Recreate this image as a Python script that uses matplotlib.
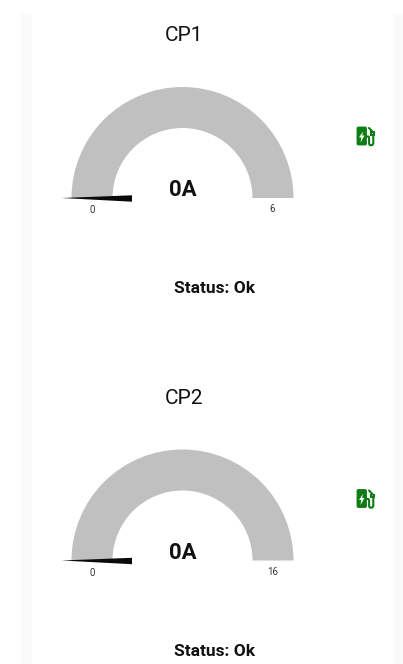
import numpy as np
import matplotlib
matplotlib.use("Agg")
import matplotlib.pyplot as plt
from matplotlib.patches import Wedge, Polygon, Rectangle, FancyBboxPatch

# chart values
titles = ["CP1", "CP2"]
currents = [0, 0]
max_values = [6, 16]
statuses = ["Ok", "Ok"]

plt.rcParams['font.family'] = ['Roboto', 'DejaVu Sans']

W, H = 403, 664
ROW_STEP = 362.5
CX, CY = 182.5, 198
R_OUT, R_IN = 111, 70


def draw_icon(ax, x, y):
    """ ev station icon, x/y is the top left corner """
    green = "#0b7d12"
    ax.add_patch(FancyBboxPatch((x + 0.5, y + 0.5), 9.5, 18, boxstyle="round,pad=0,rounding_size=1.5",
                                fc=green, ec=green, lw=0.6))
    ax.add_patch(Polygon([(x + 6.5, y + 5), (x + 2.5, y + 11), (x + 4.8, y + 11), (x + 4, y + 16),
                          (x + 8, y + 9), (x + 5.7, y + 9)], fc="white", ec="none"))
    # hose and nozzle
    ax.plot([x + 10, x + 12, x + 12.6, x + 12.6, x + 13.2, x + 15.8, x + 16.8, x + 16.8],
            [y + 10, y + 10, y + 11, y + 17, y + 18.6, y + 18.6, y + 17, y + 8],
            color=green, lw=1.5, solid_capstyle="round", solid_joinstyle="round")
    ax.plot([x + 16.8, x + 12.5], [y + 6, y + 1.5], color=green, lw=1.5, solid_capstyle="round")
    ax.add_patch(Rectangle((x + 13.6, y + 4.5), 4.6, 4.5, fc=green, ec="none"))
    ax.add_patch(Rectangle((x + 15.2, y + 6), 1.4, 1.4, fc="white", ec="none"))


def draw_gauge(ax, dy, title, value, vmax, status):
    ax.text(CX + 1, 35.5 + dy, title, fontsize=15, ha="center", va="center", color="#111111")
    ax.add_patch(Wedge((CX, CY + dy), R_OUT, 180, 360, width=R_OUT - R_IN, fc="#c0c0c0", ec="none"))

    # needle, angle comes from the value (y axis is flipped, so gauge sits in 180..360)
    a = np.deg2rad(180 + 180 * value / vmax)
    ux, uy = np.cos(a), np.sin(a)
    nx, ny = -uy, ux
    base_x = CX + ux * 50.5
    base_y = CY + dy + 0.5 + uy * 50.5
    tip = (CX + ux * 121, CY + dy + uy * 121)
    ax.add_patch(Polygon([tip, (base_x + nx * 3.2, base_y + ny * 3.2), (base_x - nx * 3.2, base_y - ny * 3.2)],
                         fc="#0a0a0a", ec="none", zorder=3))

    ax.text(CX, 190.5 + dy, f"{value}A", fontsize=16, fontweight="bold", ha="center", va="center", color="#111111")
    ax.text(92.5, 210 + dy, "0", fontsize=7, ha="center", va="center", color="#333333")
    ax.text(272.5, 209.5 + dy, str(vmax), fontsize=7, ha="center", va="center", color="#333333")
    ax.text(214.5, 288.5 + dy, f"Status: {status}", fontsize=12.5, fontweight="bold", ha="center", va="center",
            color="#111111")
    draw_icon(ax, 356.5, 126.5 + dy)


fig = plt.figure(figsize=(W / 100, H / 100), dpi=100)
ax = fig.add_axes([0, 0, 1, 1])
ax.set_xlim(0, W)
ax.set_ylim(H, 0)
ax.axis("off")

# pale side strips of the page
ax.add_patch(Rectangle((21, 14), 11, H, fc="#fafafa", ec="none"))
ax.add_patch(Rectangle((394, 14), 9, H, fc="#fafafa", ec="none"))

for i in range(len(titles)):
    draw_gauge(ax, i * ROW_STEP, titles[i], currents[i], max_values[i], statuses[i])

fig.savefig("out.png", dpi=100)
